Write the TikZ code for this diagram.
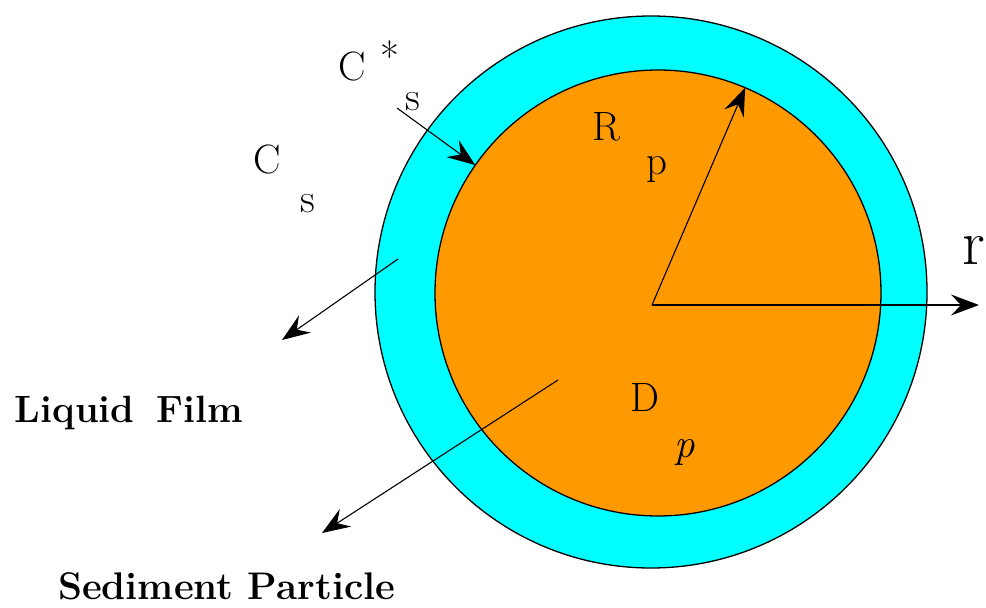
\documentclass[tikz,border=0pt]{standalone}
\usetikzlibrary{arrows.meta}
\definecolor{filmcyan}{RGB}{0,255,255}
\definecolor{partorange}{RGB}{255,153,0}
\tikzset{
  lbl/.style={inner sep=0pt, outer sep=0pt, font=\fontsize{41}{48}\selectfont},
  bigtxt/.style={inner sep=0pt, outer sep=0pt, anchor=base west, font=\bfseries\fontsize{#1}{#1}\selectfont},
  arr/.style={line width=1.1pt, -{Stealth[length=28pt,width=21pt,inset=10pt]}},
  rim/.style={circle, draw=black, line width=1.3pt, inner sep=0pt, outer sep=0pt}
}
\begin{document}
\begin{tikzpicture}[x=1pt,y=-1pt]
\useasboundingbox (0,0) rectangle (986,608);
% circles
\node[rim, fill=filmcyan, minimum size=552pt] (film) at (651,292) {};
\node[rim, fill=partorange, minimum size=446pt] (part) at (658,293) {};
% coordinates
\coordinate (O) at (652,305);
\coordinate (rtip) at (979,305);
\coordinate (Cstail) at (397,108);
\coordinate (LFtail) at (398,259);
\coordinate (LFtip) at (282,340);
\coordinate (SPtail) at (558,380);
\coordinate (SPtip) at (322,533);
% arrows
\draw[arr] (O) -- (part.67);
\draw[arr] (O) -- (rtip);
\draw[arr] (Cstail) -- (part.145.5);
\draw[arr] (LFtail) -- (LFtip);
\draw[arr] (SPtail) -- (SPtip);
% labels
\node[lbl] (C1) at (352,66) {C};
\node[lbl, anchor=north] (star) at (390,41) {*};
\node[lbl] (s1) at (413,102) {s};
\node[lbl] (C2) at (267,159) {C};
\node[lbl] (s2) at (308,204) {s};
\node[lbl] (R) at (606,127) {R};
\node[lbl] (p1) at (657,170) {p};
\node[lbl] (D) at (645,397) {D};
\node[lbl] (p2) at (685,452) {\itshape p};
\node[lbl, font=\fontsize{64}{70}\selectfont] (r) at (974,250) {r};
\node[bigtxt=38] (lf) at (15,422) {Liquid\hspace{22pt}Film};
\node[bigtxt=38.5] (sp) at (58,599) {Sediment Particle};
\end{tikzpicture}
\end{document}
